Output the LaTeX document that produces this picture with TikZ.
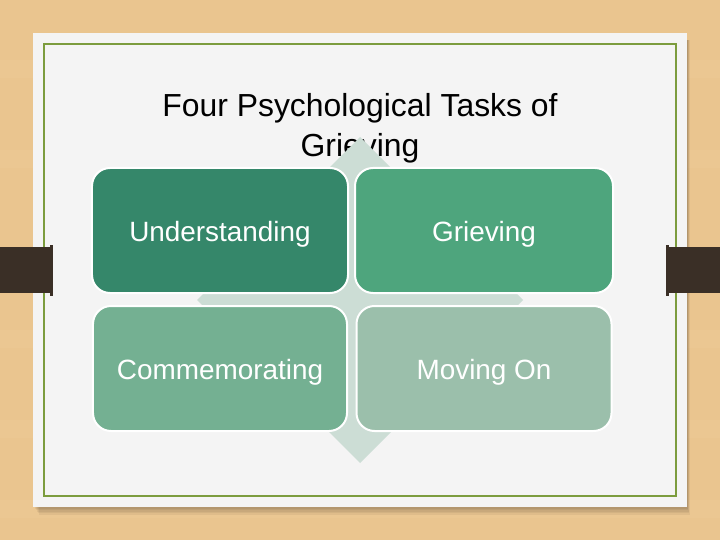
\documentclass[tikz,border=0pt]{standalone}
\usepackage{fontspec}
\setmainfont{Liberation Sans}
\usetikzlibrary{positioning}
\definecolor{wood}{HTML}{EAC58F}
\definecolor{woodlight}{HTML}{EFCE9B}
\definecolor{paper}{HTML}{F4F4F4}
\definecolor{olive}{HTML}{7C9C3E}
\definecolor{tabbrown}{HTML}{3A2F26}
\definecolor{diamondgray}{HTML}{CCDDD5}
\definecolor{cellA}{HTML}{35876A}
\definecolor{cellB}{HTML}{4EA57D}
\definecolor{cellC}{HTML}{74B092}
\definecolor{cellD}{HTML}{9BBFAB}
\tikzset{
   cell/.style={draw=white, line width=2bp, rounded corners=18bp,
      minimum width=256bp, minimum height=125bp, inner sep=0pt,
      text height=26bp, text depth=4bp,
      text=white, font=\fontsize{28}{34}\selectfont},
   tab/.style={fill=tabbrown},
   titletext/.style={align=center, font=\fontsize{32}{40}\selectfont},
    }
\begin{document}
\begin{tikzpicture}[x=1bp,y=-1bp]
    \useasboundingbox (0,0) rectangle (720,540);
    % wooden table
    \fill[wood] (0,0) rectangle (720,540);
    \foreach \y in {60,150,330,420,500}
        \fill[woodlight, opacity=.3] (0,\y) rectangle (720,\y+18);
    % card with shadow
    \foreach \i in {1,...,5}
        \fill[black, opacity=.05] (34+\i,40) rectangle (687+\i/2,507+1.6*\i);
    \fill[paper] (33,33) rectangle (687,507);
    \draw[olive, line width=1.5bp] (44,44) rectangle (676,496);
    % side tabs
    \fill[tab] (0,247) rectangle (51,293);
    \fill[tab] (50,245) rectangle (53,296);
    \fill[tab] (669,247) rectangle (720,293);
    \fill[tab] (666,245) rectangle (669,296);
    % title
    \node[titletext] (title) at (360,128) {Four Psychological Tasks of\\Grieving};
    % background diamond
    \fill[diamondgray] (360,137) -- (523,300) -- (360,463) -- (197,300) -- cycle;
    % matrix
    \node[cell, fill=cellA] (understanding) at (220,230.5) {Understanding};
    \node[cell, fill=cellB, minimum width=258bp, right=5bp of understanding] (grieving) {Grieving};
    \node[cell, fill=cellC, minimum width=254bp, below=11bp of understanding] (commemorating) {Commemorating};
    \node[cell, fill=cellD, minimum width=255bp, below=11bp of grieving] (movingon) {Moving On};
\end{tikzpicture}
\end{document}
